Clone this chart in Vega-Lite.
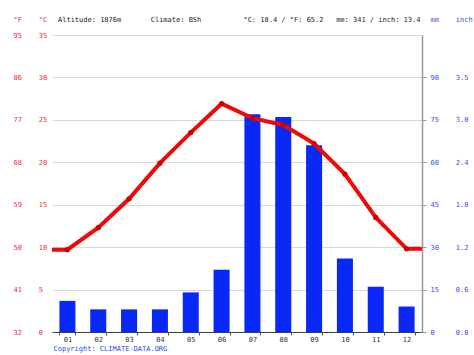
{
  "$schema": "https://vega.github.io/schema/vega-lite/v6.json",
  "width": 370,
  "height": 297,
  "autosize": "none",
  "padding": {"left": 52, "top": 35, "right": 52, "bottom": 23},
  "background": "white",
  "config": {"view": {"stroke": null}},
  "title": {
    "text": "Altitude: 1876m\u00a0\u00a0\u00a0\u00a0\u00a0\u00a0\u00a0Climate: BSh\u00a0\u00a0\u00a0\u00a0\u00a0\u00a0\u00a0\u00a0\u00a0\u00a0°C: 18.4 / °F: 65.2\u00a0\u00a0\u00a0mm: 341 / inch: 13.4",
    "anchor": "start",
    "frame": "group",
    "dx": 6,
    "offset": -8,
    "font": "DejaVu Sans Mono",
    "fontSize": 7,
    "fontWeight": "normal",
    "color": "#222222"
  },
  "datasets": {
    "precip": [
      {"month": "01", "mm": 11},
      {"month": "02", "mm": 8},
      {"month": "03", "mm": 8},
      {"month": "04", "mm": 8},
      {"month": "05", "mm": 14},
      {"month": "06", "mm": 22},
      {"month": "07", "mm": 77},
      {"month": "08", "mm": 76},
      {"month": "09", "mm": 66},
      {"month": "10", "mm": 26},
      {"month": "11", "mm": 16},
      {"month": "12", "mm": 9}
    ],
    "temp": [
      {"m": 0.5, "t": 9.7},
      {"m": 1, "t": 9.7},
      {"m": 2, "t": 12.3},
      {"m": 3, "t": 15.7},
      {"m": 4, "t": 19.9},
      {"m": 5, "t": 23.5},
      {"m": 6, "t": 26.9},
      {"m": 7, "t": 25.2},
      {"m": 8, "t": 24.4},
      {"m": 9, "t": 22.2},
      {"m": 10, "t": 18.6},
      {"m": 11, "t": 13.5},
      {"m": 12, "t": 9.8},
      {"m": 12.5, "t": 9.8}
    ]
  },
  "layer": [
    {
      "data": {"name": "precip"},
      "mark": {"type": "bar", "color": "#0a28f5"},
      "encoding": {
        "x": {
          "field": "month",
          "type": "ordinal",
          "scale": {"paddingInner": 0.48, "paddingOuter": 0.24},
          "axis": {
            "orient": "bottom",
            "labelAngle": 0,
            "labelFont": "DejaVu Sans Mono",
            "labelFontSize": 7,
            "labelColor": "#333333",
            "labelPadding": 0,
            "tickBand": "extent",
            "ticks": true,
            "tickSize": 3,
            "tickColor": "#555555",
            "domainColor": "#334455",
            "domainWidth": 1.2,
            "title": "Copyright: CLIMATE-DATA.ORG",
            "titleX": 1,
            "titleY": 16,
            "titleAlign": "left",
            "titleAnchor": "start",
            "titleBaseline": "middle",
            "titleColor": "#2a4bd7",
            "titleFont": "DejaVu Sans Mono",
            "titleFontSize": 7,
            "titleFontWeight": "normal"
          }
        },
        "y": {
          "field": "mm",
          "type": "quantitative",
          "scale": {"domain": [0, 105], "nice": false},
          "axis": {
            "orient": "right",
            "values": [0, 15, 30, 45, 60, 75, 90],
            "labelExpr": "pad(datum.label, 6, '\u00a0') + format(datum.value / 25.4, '.1f')",
            "labelAlign": "left",
            "labelPadding": 4,
            "labelFlush": false,
            "labelFont": "DejaVu Sans Mono",
            "labelFontSize": 7,
            "labelColor": "#3a4ee8",
            "tickSize": 4,
            "tickColor": "#999999",
            "domainColor": "#999999",
            "domainWidth": 1.5,
            "grid": false,
            "title": "mm\u00a0\u00a0\u00a0\u00a0inch",
            "titleAngle": 0,
            "titleX": 8,
            "titleY": -16,
            "titleAlign": "left",
            "titleBaseline": "middle",
            "titleColor": "#3a4ee8",
            "titleFont": "DejaVu Sans Mono",
            "titleFontSize": 7,
            "titleFontWeight": "normal"
          }
        }
      }
    },
    {
      "data": {"name": "temp"},
      "mark": {"type": "line", "color": "#ee0a0a", "strokeWidth": 4},
      "encoding": {
        "x": {
          "field": "m",
          "type": "quantitative",
          "scale": {"domain": [0.5, 12.5], "nice": false, "zero": false},
          "axis": null
        },
        "y": {
          "field": "t",
          "type": "quantitative",
          "scale": {"domain": [0, 35], "nice": false},
          "axis": {
            "orient": "left",
            "values": [0, 5, 10, 15, 20, 25, 30, 35],
            "labelExpr": "format(datum.value * 1.8 + 32, 'd') + '\u00a0\u00a0\u00a0\u00a0' + datum.label",
            "labelAlign": "left",
            "labelPadding": 39,
            "labelFlush": false,
            "labelFont": "DejaVu Sans Mono",
            "labelFontSize": 7,
            "labelColor": "#e63030",
            "ticks": false,
            "tickSize": 0,
            "domain": false,
            "grid": true,
            "gridColor": "#d9d9d9",
            "title": "°F\u00a0\u00a0\u00a0\u00a0°C",
            "titleAngle": 0,
            "titleX": -39,
            "titleY": -16,
            "titleAlign": "left",
            "titleBaseline": "middle",
            "titleColor": "#e63030",
            "titleFont": "DejaVu Sans Mono",
            "titleFontSize": 7,
            "titleFontWeight": "normal"
          }
        }
      }
    },
    {
      "data": {"name": "temp"},
      "transform": [{"filter": "datum.m >= 1 && datum.m <= 12"}],
      "mark": {"type": "point", "filled": true, "opacity": 1, "color": "#cc0000", "size": 28},
      "encoding": {
        "x": {
          "field": "m",
          "type": "quantitative",
          "scale": {"domain": [0.5, 12.5], "nice": false, "zero": false},
          "axis": null
        },
        "y": {
          "field": "t",
          "type": "quantitative",
          "scale": {"domain": [0, 35], "nice": false},
          "axis": null
        }
      }
    }
  ],
  "resolve": {"scale": {"x": "independent", "y": "independent"}, "axis": {"x": "independent", "y": "independent"}}
}
